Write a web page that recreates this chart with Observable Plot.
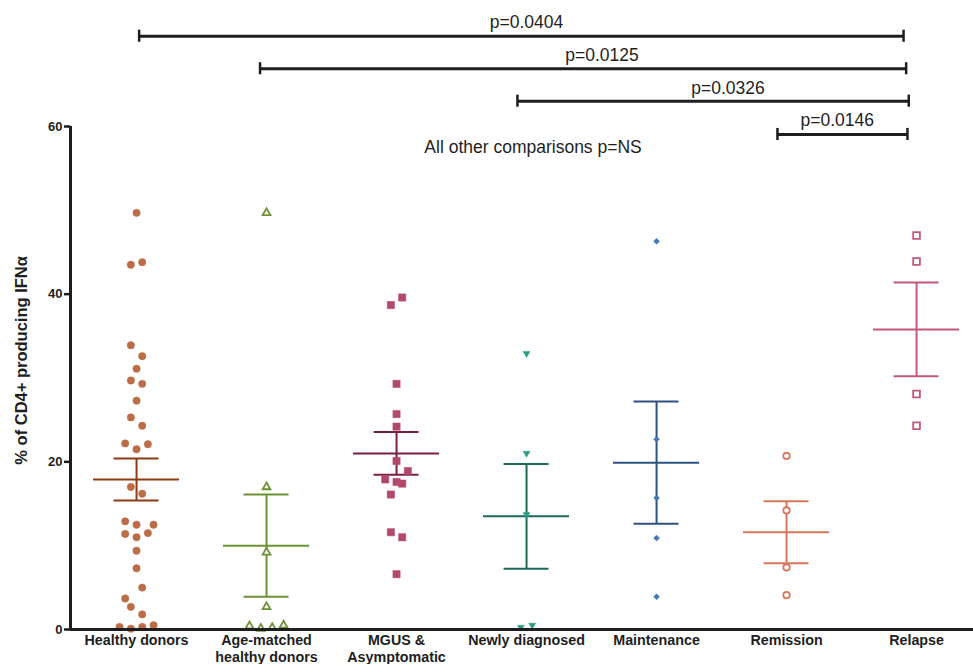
<!DOCTYPE html>
<html>
<head>
<meta charset="utf-8">
<script src="https://cdn.jsdelivr.net/npm/d3@7"></script>
<script src="https://cdn.jsdelivr.net/npm/@observablehq/plot@0.6"></script>
<style>
  html, body { margin: 0; padding: 0; background: #fff; }
  #chart svg { display: block; }
</style>
</head>
<body>
<div id="chart"></div>
<script>
// ---- categories ----
const groups = ["Healthy donors", "Age-matched\nhealthy donors", "MGUS &\nAsymptomatic",
  "Newly diagnosed", "Maintenance", "Remission", "Relapse"];

// ---- individual values (% of CD4+ producing IFNα) and scatter slot (column offset) ----
const healthyVals  = [49.7, 43.5, 43.8, 33.9, 32.6, 31.1, 29.7, 29.3, 27.3, 25.3, 24.3, 22.2, 21.5, 22.1,
  17.0, 16.2, 12.9, 12.5, 12.5, 11.4, 11.0, 11.5, 9.4, 7.3, 5.0, 3.7, 2.7, 1.8, 0.3, 0.1, 0.3, 0.5];
const healthySlots = [0, -1, 1, -1, 1, 0, -1, 1, 0, -1, 1, -2, 0, 2,
  -1, 1, -2, 0, 3, -2, 0, 2, 0, 0, 1, -2, -1, 1, -3, -1, 1, 3];
const ageVals  = [49.7, 17.0, 9.2, 2.7, 0.4, 0.1, 0.2, 0.5];
const ageSlots = [0, 0, 0, 0, -3, -1, 1, 3];
const mgusVals  = [39.6, 38.7, 29.3, 25.7, 24.2, 20.1, 18.9, 17.9, 17.6, 17.4, 16.1, 11.6, 11.0, 6.6];
const mgusSlots = [1, -1, 0, 0, 0, 0, 2, -2, 0, 1, -1, -1, 1, 0];
const newlyVals  = [32.8, 20.9, 13.6, 0.15, 0.4];
const newlySlots = [0, 0, 0, -1, 1];
const maintVals  = [46.3, 22.7, 15.7, 10.9, 3.9];
const maintSlots = [0, 0, 0, 0, 0];
const remVals  = [20.7, 14.2, 7.4, 4.1];
const remSlots = [0, 0, 0, 0];
const relVals  = [47.0, 43.9, 28.1, 24.3];
const relSlots = [0, 0, 0, 0];

// ---- mean ± SEM per group ----
const means = [17.9, 10.0, 21.0, 13.5, 19.9, 11.6, 35.8];
const sems  = [2.5, 6.1, 2.55, 6.25, 7.3, 3.7, 5.6];

// ---- significance brackets ----
const pLabels      = ["p=0.0404", "p=0.0125", "p=0.0326", "p=0.0146"];
const bracketStart = [0.02, 0.95, 2.93, 4.93];
const bracketEnd   = [5.90, 5.92, 5.94, 5.93];
const bracketY     = [70.77, 66.89, 63.02, 59.05];
const pLabelX      = [3.0, 3.58, 4.55, 5.39];
const pLabelY      = [72.44, 68.5, 64.6, 60.7];
const nsNote = "All other comparisons p=NS";
const nsNoteX = 3.05, nsNoteY = 57.5;

const yTicks = [0, 20, 40, 60];
const yLabel = "% of CD4+ producing IFNα";
const yLabelAt = 32.1;

// ---- styles ----
const triDown = {
  draw(ctx, size) {
    const w = Math.sqrt(size) * 1.5, h = w * 0.85;
    ctx.moveTo(-w / 2, -h / 2); ctx.lineTo(w / 2, -h / 2); ctx.lineTo(0, h / 2); ctx.closePath();
  }
};
const pointColors = ["#bc6d48", "#6d9136", "#b3486e", "#2e9b84", "#4677b5", "#d8775a", "#c2587c"];
const lineColors  = ["#8c3b12", "#6d9136", "#7a1f45", "#1c6a5a", "#2c5282", "#d8775a", "#c2587c"];
const symbols     = ["circle", "triangle", "square", triDown, "diamond2", "circle", "square"];
const hollow      = [false, true, false, false, false, true, true];
const radii       = [3.7, 2.9, 4.1, 2.6, 2.7, 3.2, 3.8];

const SLOT = 5.67 / 130;     // one scatter column in x units
const MEAN_HALF = 0.331;     // half length of mean line
const CAP_HALF = 0.173;      // half length of SEM caps
const CAP_Y = 0.72;          // bracket end-cap half height (y units)
const X_DOMAIN = [-0.508, 6.438];

const valsList = [healthyVals, ageVals, mgusVals, newlyVals, maintVals, remVals, relVals];
const slotsList = [healthySlots, ageSlots, mgusSlots, newlySlots, maintSlots, remSlots, relSlots];
const points = valsList.flatMap((vals, g) => vals.map((v, k) => ({g, v, slot: slotsList[g][k]})));
const stats = means.map((m, g) => ({g, m, s: sems[g]}));
const brackets = pLabels.map((p, k) => ({p, x1: bracketStart[k], x2: bracketEnd[k], y: bracketY[k], lx: pLabelX[k], ly: pLabelY[k]}));

const ink = "#1e1e1e";
const font = "'Liberation Sans', Arial, Helvetica, sans-serif";

const dotMarks = groups.map((_, g) => Plot.dot(points.filter(d => d.g === g), {
  x: d => d.g + d.slot * SLOT,
  y: "v",
  symbol: () => symbols[g],
  r: radii[g],
  fill: hollow[g] ? "white" : pointColors[g],
  stroke: pointColors[g],
  strokeWidth: hollow[g] ? 1.8 : 0.5
}));

const chart = Plot.plot({
  width: 973,
  height: 664,
  marginLeft: 70,
  marginRight: 0,
  marginTop: 126,
  marginBottom: 35,
  style: {fontFamily: font, color: ink, background: "white"},
  x: {type: "linear", domain: X_DOMAIN},
  y: {domain: [0, 60]},
  symbol: {type: "identity"},
  marks: [
    Plot.axisY({ticks: yTicks, tickSize: 6, tickPadding: 2, fontSize: 13, fontWeight: "bold",
      strokeWidth: 2.5, stroke: ink, label: null}),
    Plot.axisX({ticks: d3.range(groups.length), tickFormat: i => groups[i], tickSize: 0, tickPadding: 4,
      fontSize: 14.3, fontWeight: "bold", lineHeight: 1.15, label: null}),
    Plot.text([yLabel], {frameAnchor: "left", y: () => yLabelAt, rotate: -90, dx: -49,
      textAnchor: "middle", fontSize: 16.5, fontWeight: "bold", fill: ink}),
    // mean ± SEM
    Plot.ruleX(stats, {x: "g", y1: d => d.m - d.s, y2: d => d.m + d.s, stroke: d => lineColors[d.g], strokeWidth: 2}),
    Plot.ruleY(stats, {y: "m", x1: d => d.g - MEAN_HALF, x2: d => d.g + MEAN_HALF, stroke: d => lineColors[d.g], strokeWidth: 2}),
    Plot.ruleY(stats, {y: d => d.m + d.s, x1: d => d.g - CAP_HALF, x2: d => d.g + CAP_HALF, stroke: d => lineColors[d.g], strokeWidth: 2}),
    Plot.ruleY(stats, {y: d => d.m - d.s, x1: d => d.g - CAP_HALF, x2: d => d.g + CAP_HALF, stroke: d => lineColors[d.g], strokeWidth: 2}),
    ...dotMarks,
    // axis lines
    Plot.ruleY([0], {stroke: ink, strokeWidth: 3}),
    Plot.ruleX([X_DOMAIN[0]], {y1: 0, y2: 60, stroke: ink, strokeWidth: 3}),
    // brackets
    Plot.ruleY(brackets, {y: "y", x1: "x1", x2: "x2", stroke: ink, strokeWidth: 3}),
    Plot.ruleX(brackets, {x: "x1", y1: d => d.y - CAP_Y, y2: d => d.y + CAP_Y, stroke: ink, strokeWidth: 2.5}),
    Plot.ruleX(brackets, {x: "x2", y1: d => d.y - CAP_Y, y2: d => d.y + CAP_Y, stroke: ink, strokeWidth: 2.5}),
    Plot.text(brackets, {x: "lx", y: "ly", text: "p", fontSize: 17.5, fill: ink}),
    Plot.text([nsNote], {x: () => nsNoteX, y: () => nsNoteY, fontSize: 17.5, fill: ink})
  ]
});
document.getElementById("chart").appendChild(chart);
</script>
</body>
</html>
